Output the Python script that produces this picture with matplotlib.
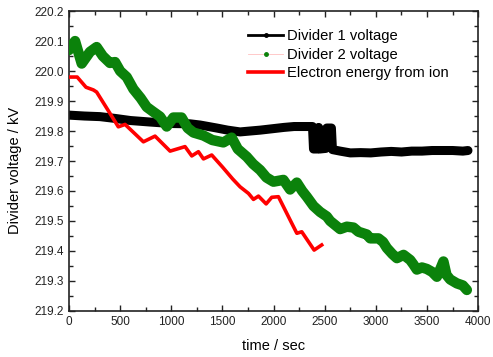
import numpy as np
import matplotlib
matplotlib.use("Agg")
import matplotlib.pyplot as plt
from matplotlib.ticker import MultipleLocator, FormatStrFormatter

# Divider 1 voltage (black)
t_div1 = [0, 150, 303, 450, 600, 792, 1000, 1183, 1281, 1444, 1550, 1672, 1770, 1870,
          1998, 2100, 2200, 2300, 2380, 2390, 2430, 2440, 2452, 2510, 2520, 2565, 2575,
          2650, 2750, 2850, 2950, 3050, 3150, 3250, 3350, 3450, 3550, 3650, 3750, 3850, 3900]
v_div1 = [219.853, 219.850, 219.848, 219.842, 219.835, 219.830, 219.825, 219.824, 219.820,
          219.810, 219.803, 219.797, 219.800, 219.803, 219.808, 219.812, 219.815, 219.815,
          219.815, 219.740, 219.740, 219.812, 219.740, 219.742, 219.810, 219.810, 219.738,
          219.733, 219.727, 219.728, 219.727, 219.730, 219.732, 219.730, 219.733, 219.733,
          219.735, 219.735, 219.735, 219.733, 219.735]

# Divider 2 voltage (green)
t_div2 = [0, 59, 124, 205, 270, 330, 400, 450, 500, 564, 629, 700, 760, 820, 890, 955,
          1020, 1100, 1160, 1216, 1314, 1400, 1509, 1590, 1650, 1738, 1800, 1868, 1930,
          1998, 2096, 2161, 2227, 2280, 2324, 2390, 2455, 2520, 2553, 2650, 2716, 2781,
          2830, 2911, 2944, 3025, 3070, 3107, 3160, 3205, 3270, 3335, 3367, 3400, 3450,
          3498, 3550, 3596, 3630, 3660, 3690, 3726, 3791, 3850, 3889]
v_div2 = [220.070, 220.100, 220.025, 220.064, 220.080, 220.050, 220.027, 220.030, 220.000,
          219.980, 219.940, 219.910, 219.880, 219.865, 219.848, 219.815, 219.845, 219.845,
          219.810, 219.795, 219.785, 219.770, 219.762, 219.778, 219.740, 219.714, 219.690,
          219.670, 219.645, 219.631, 219.637, 219.605, 219.628, 219.600, 219.581, 219.550,
          219.530, 219.515, 219.500, 219.473, 219.481, 219.478, 219.464, 219.455, 219.442,
          219.442, 219.430, 219.410, 219.390, 219.376, 219.387, 219.370, 219.355, 219.338,
          219.345, 219.340, 219.330, 219.314, 219.340, 219.365, 219.320, 219.305, 219.292,
          219.285, 219.270]

# Electron energy from ion (red)
t_ion = [10, 80, 166, 238, 270, 380, 482, 548, 727, 841, 988, 1134, 1200, 1265, 1314,
         1395, 1500, 1600, 1672, 1754, 1803, 1852, 1927, 1982, 2047, 2178, 2227, 2275,
         2396, 2470]
v_ion = [219.980, 219.980, 219.946, 219.937, 219.930, 219.870, 219.814, 219.822, 219.764,
         219.783, 219.733, 219.748, 219.717, 219.731, 219.707, 219.720, 219.680, 219.640,
         219.614, 219.592, 219.572, 219.583, 219.557, 219.579, 219.581, 219.492, 219.459,
         219.464, 219.403, 219.420]

plt.rcParams['font.family'] = ['Liberation Sans', 'DejaVu Sans']

fig = plt.figure(figsize=(4.93, 3.57), dpi=100)
ax = fig.add_axes([0.140, 0.129, 0.830, 0.840])

green = "#0b820b"
# noisy data drawn as thick bands
ax.plot(t_div1, v_div1, color="black", lw=6.5, solid_joinstyle="round",
        solid_capstyle="round", zorder=2)
ax.plot(t_div2, v_div2, color=green, lw=7.5, solid_joinstyle="round",
        solid_capstyle="round", zorder=3)
ax.plot(t_ion, v_ion, color="red", lw=2.6, zorder=4)

# legend proxies
h1, = ax.plot([], [], color="black", lw=2, marker="o", ms=2.5, label="Divider 1 voltage")
h2, = ax.plot([], [], color="#ffc0c0", lw=0.6, marker="o", ms=2.5, mfc=green, mec=green,
              label="Divider 2 voltage")
h3, = ax.plot([], [], color="red", lw=2.6, label="Electron energy from ion")

ax.set_xlim(0, 4000)
ax.set_ylim(219.2, 220.2)
ax.xaxis.set_major_locator(MultipleLocator(500))
ax.xaxis.set_minor_locator(MultipleLocator(250))
ax.yaxis.set_major_locator(MultipleLocator(0.1))
ax.yaxis.set_minor_locator(MultipleLocator(0.05))
ax.yaxis.set_major_formatter(FormatStrFormatter("%.1f"))
ax.tick_params(which="both", direction="in", top=True, right=True, colors="#222222",
               labelsize=8.5, width=1)
ax.tick_params(which="major", length=4)
ax.tick_params(which="minor", length=3)
for s in ax.spines.values():
    s.set_linewidth(1.2)
    s.set_color("#222222")

ax.set_xlabel("time / sec", fontsize=10.5, labelpad=8)
ax.set_ylabel("Divider voltage / kV", fontsize=10.5)
ax.yaxis.set_label_coords(-0.115, 0.467)

ax.legend(handles=[h1, h2, h3], loc="upper left",
          bbox_to_anchor=(248 / 493, 1 - 29 / 357), bbox_transform=fig.transFigure,
          frameon=False, fontsize=10.6, handlelength=2.4, handletextpad=0.25,
          labelspacing=0.32, borderaxespad=0, borderpad=0)

fig.savefig("out.png", dpi=100)
